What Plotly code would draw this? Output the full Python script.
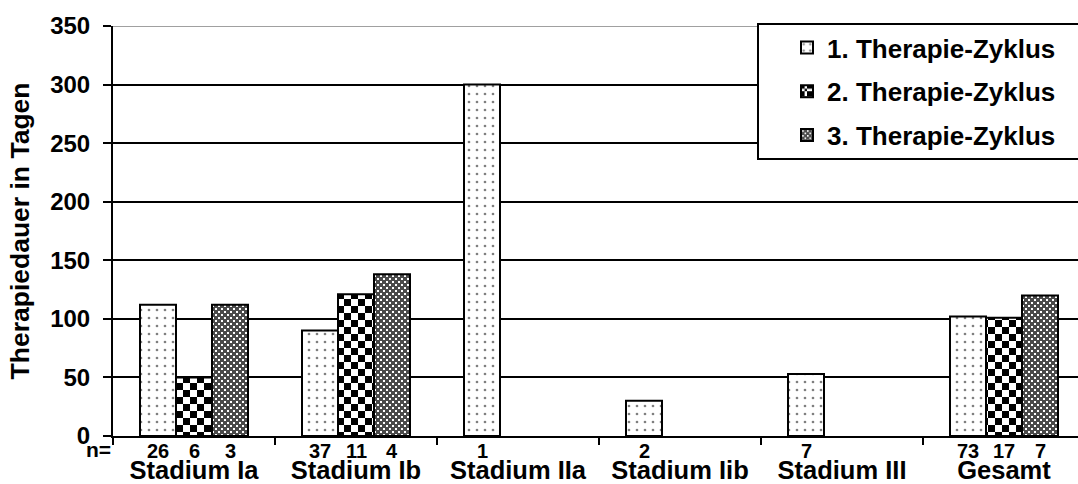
import plotly.graph_objects as go

# Therapy duration per disease stage and therapy cycle
categories = ["Stadium Ia", "Stadium Ib", "Stadium IIa", "Stadium Iib", "Stadium III", "Gesamt"]
series_names = ["1. Therapie-Zyklus", "2. Therapie-Zyklus", "3. Therapie-Zyklus"]
zyklus1 = [112, 90, 300, 30, 53, 102]
zyklus2 = [50, 121, None, None, None, 101]
zyklus3 = [112, 138, None, None, None, 120]

# patient counts shown under each bar
n_zyklus1 = [26, 37, 1, 2, 7, 73]
n_zyklus2 = [6, 11, None, None, None, 17]
n_zyklus3 = [3, 4, None, None, None, 7]

y_ticks = [0, 50, 100, 150, 200, 250, 300, 350]

FONT = "Liberation Sans, Arial, sans-serif"
BAR_GAP = 1 / 3

W, H = 1078, 484
M_L, M_R, M_T, M_B = 113, 0, 26, 48

patterns = [
    # sparse dots
    dict(shape=".", size=8, solidity=0.09, fgcolor="black", bgcolor="white"),
    # checkerboard
    dict(path="M0,0H7V7H0Z M7,7H14V14H7Z", size=14, solidity=1,
         fgcolor="black", bgcolor="white", fgopacity=1),
    # grey lattice with staggered light holes
    dict(path="M0,0H6V6H0Z M0,0V2H2V0Z M3,3V5H5V3Z", size=6, solidity=1,
         fgcolor="#4a4a4a", bgcolor="white", fgopacity=1),
]

fig = go.Figure()
for name, vals, pat in zip(series_names, [zyklus1, zyklus2, zyklus3], patterns):
    fig.add_trace(go.Bar(
        x=categories, y=vals, name=name, legendgroup=name,
        marker=dict(color="white", pattern=pat, line=dict(color="black", width=2)),
    ))

# n= labels under every bar, positioned at the bar slot centres
slot = (1 - BAR_GAP) / 3
annotations = []
for k, counts in enumerate([n_zyklus1, n_zyklus2, n_zyklus3]):
    for i, n in enumerate(counts):
        if n is None:
            continue
        annotations.append(dict(
            x=i + (k - 1) * slot, xref="x", y=0, yref="paper", yshift=-15,
            text=str(n), showarrow=False, yanchor="middle", xanchor="center",
            font=dict(family=FONT, size=20, color="black", weight="bold"),
        ))
annotations.append(dict(
    x=0, xref="paper", y=0, yref="paper", yshift=-13, xanchor="right", yanchor="middle",
    text="n=", showarrow=False,
    font=dict(family=FONT, size=21, color="black", weight="bold"),
))

plot_w = W - M_L - M_R
plot_h = H - M_T - M_B

def px_x(px):
    return (px - M_L) / plot_w

def px_y(py):
    return (H - M_B - py) / plot_h

shapes = [
    # top boundary line at 350
    dict(type="line", xref="paper", yref="y", x0=0, x1=1, y0=350, y1=350,
         line=dict(color="#808080", width=1.5), layer="above"),
    # legend frame
    dict(type="rect", xref="paper", yref="paper",
         x0=px_x(758), x1=px_x(1090), y0=px_y(159), y1=px_y(24),
         line=dict(color="black", width=2), fillcolor="white", layer="above"),
]

fig.update_layout(
    width=W, height=H,
    margin=dict(l=M_L, r=M_R, t=M_T, b=M_B, pad=0, autoexpand=False),
    paper_bgcolor="white", plot_bgcolor="white",
    barmode="group", bargap=BAR_GAP, bargroupgap=0,
    font=dict(family=FONT, color="black"),
    showlegend=True,
    legend=dict(
        x=px_x(787), y=px_y(24), xanchor="left", yanchor="top",
        font=dict(family=FONT, size=26, color="black", weight="bold"),
        bgcolor="rgba(0,0,0,0)", borderwidth=0, tracegroupgap=7,
    ),
    annotations=annotations,
    shapes=shapes,
)

fig.update_xaxes(
    type="category", tickson="boundaries", range=[-0.5, -0.5 + plot_w / 162],
    automargin=False,
    showline=True, linecolor="black", linewidth=2,
    ticks="outside", ticklen=7, tickwidth=2, tickcolor="black",
    tickfont=dict(family=FONT, size=25.5, color="black", weight="bold"),
    ticklabelstandoff=10, showgrid=False,
)

fig.update_yaxes(
    range=[0, 350], tickvals=y_ticks, automargin=False,
    showline=True, linecolor="black", linewidth=2,
    ticks="outside", ticklen=8, tickwidth=1.5, tickcolor="black",
    showgrid=True, gridcolor="black", gridwidth=1.5, zeroline=False,
    tickfont=dict(family=FONT, size=24, color="black", weight="bold"),
    ticklabelstandoff=8,
    title=dict(text="Therapiedauer in Tagen", standoff=13,
               font=dict(family=FONT, size=26.5, color="black", weight="bold")),
)

fig.write_html("out.html")
